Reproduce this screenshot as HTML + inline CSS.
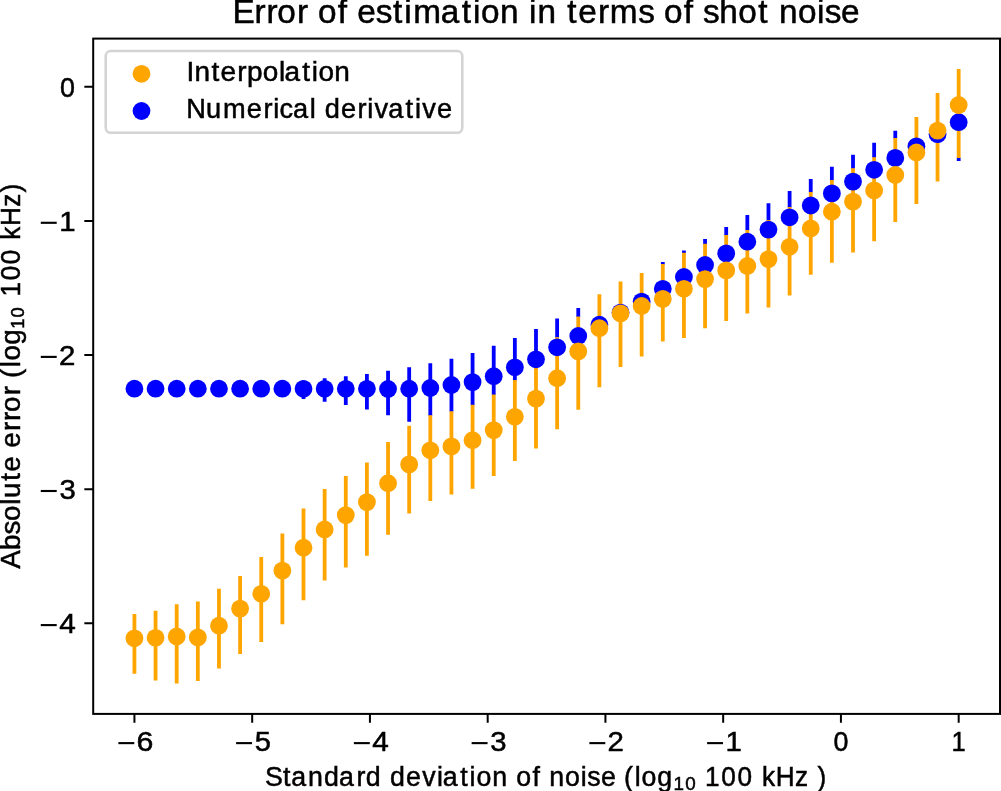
<!DOCTYPE html><html><head><meta charset="utf-8"><style>
html,body{margin:0;padding:0;background:#fff;}
svg{display:block;will-change:transform;}
text{font-family:"Liberation Sans",sans-serif;fill:#000;stroke:#000;stroke-width:0.5px;font-kerning:none;font-variant-ligatures:none;}
.h{fill-opacity:0;stroke-opacity:0;}
</style></head><body>
<svg width="1001" height="791" viewBox="0 0 1001 791">
<rect width="1001" height="791" fill="#fff"/>
<path d="M134.43 381.00V396.00M155.56 381.00V396.00M176.70 381.00V396.00M197.83 381.00V396.00M218.97 381.00V396.00M240.10 381.00V396.00M261.24 381.00V396.00M282.37 380.00V397.00M303.51 380.50V399.00M324.64 378.20V401.80M345.78 376.20V405.10M366.91 373.90V409.60M388.05 370.80V415.20M409.18 367.20V421.70M430.31 363.30V415.70M451.45 358.70V411.80M472.58 353.00V405.30M493.72 345.70V394.90M514.85 338.10V380.60M535.99 328.90V360.50M557.12 318.60V337.70M578.26 308.00V317.00M662.80 262.10V264.50M683.93 250.40V253.20M705.06 239.10V244.20M726.20 227.10V235.50M747.33 215.00V230.50M768.47 203.20V220.40M789.60 191.00V207.50M810.74 179.00V192.40M831.87 166.80V180.60M853.01 154.70V168.80M874.14 142.80V157.80M895.28 130.80V138.50M958.68 157.60V160.90" stroke="#0000ff" stroke-width="3.8" fill="none"/>
<path d="M134.43 614.00V673.80M155.56 610.80V680.60M176.70 604.30V683.50M197.83 601.40V680.90M218.97 588.80V668.60M240.10 576.00V653.90M261.24 557.00V642.00M282.37 533.40V624.20M303.51 508.60V600.30M324.64 489.10V580.60M345.78 476.10V567.60M366.91 462.50V555.70M388.05 441.90V534.80M409.18 425.70V513.60M430.31 415.20V501.10M451.45 411.30V494.60M472.58 404.80V488.70M493.72 394.40V476.10M514.85 380.10V461.00M535.99 360.00V448.50M557.12 337.20V429.20M578.26 316.50V409.80M599.39 294.30V387.30M620.53 281.40V367.00M641.66 273.10V356.40M662.80 264.00V341.40M683.93 252.70V338.00M705.06 243.70V328.20M726.20 235.00V321.00M747.33 230.00V313.50M768.47 219.90V307.50M789.60 207.00V295.50M810.74 191.90V274.70M831.87 180.10V262.70M853.01 168.30V252.60M874.14 157.30V241.30M895.28 138.00V222.10M916.41 117.10V204.10M937.55 93.10V181.60M958.68 69.00V158.10" stroke="#ffa500" stroke-width="3.8" fill="none"/>
<g fill="#0000ff"><circle cx="134.43" cy="388.70" r="8.9"/><circle cx="155.56" cy="388.70" r="8.9"/><circle cx="176.70" cy="388.70" r="8.9"/><circle cx="197.83" cy="388.70" r="8.9"/><circle cx="218.97" cy="388.70" r="8.9"/><circle cx="240.10" cy="388.70" r="8.9"/><circle cx="261.24" cy="388.70" r="8.9"/><circle cx="282.37" cy="388.70" r="8.9"/><circle cx="303.51" cy="388.80" r="8.9"/><circle cx="324.64" cy="388.80" r="8.9"/><circle cx="345.78" cy="388.80" r="8.9"/><circle cx="366.91" cy="388.80" r="8.9"/><circle cx="388.05" cy="389.00" r="8.9"/><circle cx="409.18" cy="388.70" r="8.9"/><circle cx="430.31" cy="388.00" r="8.9"/><circle cx="451.45" cy="385.00" r="8.9"/><circle cx="472.58" cy="382.10" r="8.9"/><circle cx="493.72" cy="376.20" r="8.9"/><circle cx="514.85" cy="367.30" r="8.9"/><circle cx="535.99" cy="359.30" r="8.9"/><circle cx="557.12" cy="347.30" r="8.9"/><circle cx="578.26" cy="336.00" r="8.9"/><circle cx="599.39" cy="324.70" r="8.9"/><circle cx="620.53" cy="312.60" r="8.9"/><circle cx="641.66" cy="301.60" r="8.9"/><circle cx="662.80" cy="288.80" r="8.9"/><circle cx="683.93" cy="277.00" r="8.9"/><circle cx="705.06" cy="265.00" r="8.9"/><circle cx="726.20" cy="253.40" r="8.9"/><circle cx="747.33" cy="241.70" r="8.9"/><circle cx="768.47" cy="229.60" r="8.9"/><circle cx="789.60" cy="217.30" r="8.9"/><circle cx="810.74" cy="205.50" r="8.9"/><circle cx="831.87" cy="193.40" r="8.9"/><circle cx="853.01" cy="181.60" r="8.9"/><circle cx="874.14" cy="169.80" r="8.9"/><circle cx="895.28" cy="157.90" r="8.9"/><circle cx="916.41" cy="146.30" r="8.9"/><circle cx="937.55" cy="134.20" r="8.9"/><circle cx="958.68" cy="122.20" r="8.9"/></g>
<g fill="#ffa500"><circle cx="134.43" cy="638.30" r="8.9"/><circle cx="155.56" cy="637.80" r="8.9"/><circle cx="176.70" cy="636.50" r="8.9"/><circle cx="197.83" cy="637.40" r="8.9"/><circle cx="218.97" cy="625.70" r="8.9"/><circle cx="240.10" cy="608.60" r="8.9"/><circle cx="261.24" cy="593.80" r="8.9"/><circle cx="282.37" cy="570.60" r="8.9"/><circle cx="303.51" cy="547.70" r="8.9"/><circle cx="324.64" cy="529.50" r="8.9"/><circle cx="345.78" cy="515.10" r="8.9"/><circle cx="366.91" cy="502.10" r="8.9"/><circle cx="388.05" cy="483.20" r="8.9"/><circle cx="409.18" cy="464.40" r="8.9"/><circle cx="430.31" cy="450.30" r="8.9"/><circle cx="451.45" cy="446.40" r="8.9"/><circle cx="472.58" cy="440.20" r="8.9"/><circle cx="493.72" cy="430.10" r="8.9"/><circle cx="514.85" cy="416.80" r="8.9"/><circle cx="535.99" cy="398.60" r="8.9"/><circle cx="557.12" cy="378.20" r="8.9"/><circle cx="578.26" cy="351.40" r="8.9"/><circle cx="599.39" cy="328.20" r="8.9"/><circle cx="620.53" cy="313.40" r="8.9"/><circle cx="641.66" cy="306.00" r="8.9"/><circle cx="662.80" cy="298.90" r="8.9"/><circle cx="683.93" cy="288.80" r="8.9"/><circle cx="705.06" cy="279.10" r="8.9"/><circle cx="726.20" cy="270.40" r="8.9"/><circle cx="747.33" cy="266.00" r="8.9"/><circle cx="768.47" cy="259.10" r="8.9"/><circle cx="789.60" cy="246.80" r="8.9"/><circle cx="810.74" cy="228.50" r="8.9"/><circle cx="831.87" cy="211.70" r="8.9"/><circle cx="853.01" cy="201.60" r="8.9"/><circle cx="874.14" cy="190.40" r="8.9"/><circle cx="895.28" cy="175.00" r="8.9"/><circle cx="916.41" cy="152.50" r="8.9"/><circle cx="937.55" cy="130.60" r="8.9"/><circle cx="958.68" cy="105.00" r="8.9"/></g>
<rect x="93.2" y="38.6" width="906.80" height="675.30" fill="none" stroke="#000" stroke-width="2" stroke-linejoin="miter"/>
<path d="M134.43 713.90V722.75M252.18 713.90V722.75M369.93 713.90V722.75M487.68 713.90V722.75M605.43 713.90V722.75M723.18 713.90V722.75M840.93 713.90V722.75M958.68 713.90V722.75M84.35 86.87H93.20M84.35 220.97H93.20M84.35 355.07H93.20M84.35 489.17H93.20M84.35 623.27H93.20" stroke="#000" stroke-width="2"/>
<rect x="118.37" y="742.07" width="15.93" height="2.11" fill="#000"/><text transform="translate(0,751.10) scale(1.1238,1)" x="104.52 121.58" y="0" font-size="27.0"><tspan class="h">−</tspan>6</text>
<rect x="236.12" y="742.07" width="15.93" height="2.11" fill="#000"/><text transform="translate(0,751.10) scale(1.0778,1)" x="218.58 236.27" y="0" font-size="27.0"><tspan class="h">−</tspan>5</text>
<rect x="353.87" y="742.07" width="15.93" height="2.11" fill="#000"/><text transform="translate(0,751.10) scale(1.1021,1)" x="320.42 337.83" y="0" font-size="27.0"><tspan class="h">−</tspan>4</text>
<rect x="471.62" y="742.07" width="15.93" height="2.11" fill="#000"/><text transform="translate(0,751.10) scale(1.0859,1)" x="433.74 451.43" y="0" font-size="27.0"><tspan class="h">−</tspan>3</text>
<rect x="589.37" y="742.07" width="15.93" height="2.11" fill="#000"/><text transform="translate(0,751.10) scale(1.0902,1)" x="540.00 557.28" y="0" font-size="27.0"><tspan class="h">−</tspan>2</text>
<rect x="707.12" y="742.07" width="15.93" height="2.11" fill="#000"/><text transform="translate(0,751.10) scale(1.0897,1)" x="648.36 665.79" y="0" font-size="27.0"><tspan class="h">−</tspan>1</text>
<text transform="translate(0,751.10) scale(0.9936,1)" x="838.81" y="0" font-size="27.0">0</text>
<text transform="translate(0,751.10) scale(0.9490,1)" x="1002.56" y="0" font-size="27.0">1</text>
<text transform="translate(0,96.67) scale(0.9936,1)" x="60.42" y="0" font-size="27.0">0</text>
<rect x="40.78" y="221.74" width="15.93" height="2.11" fill="#000"/><text transform="translate(0,230.77) scale(1.0897,1)" x="36.84 54.28" y="0" font-size="27.0"><tspan class="h">−</tspan>1</text>
<rect x="40.78" y="355.84" width="15.93" height="2.11" fill="#000"/><text transform="translate(0,364.87) scale(1.0902,1)" x="36.82 54.10" y="0" font-size="27.0"><tspan class="h">−</tspan>2</text>
<rect x="40.78" y="489.94" width="15.93" height="2.11" fill="#000"/><text transform="translate(0,498.97) scale(1.0859,1)" x="37.00 54.69" y="0" font-size="27.0"><tspan class="h">−</tspan>3</text>
<rect x="40.78" y="624.04" width="15.93" height="2.11" fill="#000"/><text transform="translate(0,633.07) scale(1.1021,1)" x="36.34 53.74" y="0" font-size="27.0"><tspan class="h">−</tspan>4</text>
<text transform="translate(0,23.10) scale(1.0292,1)" x="225.79 247.31 258.97 269.32 288.61 299.56 309.03 328.17 337.52 347.10 364.99 381.81 392.73 401.44 428.20 448.65 459.57 467.33 485.83 504.16 514.11 522.25 540.58 551.22 561.77 581.06 592.49 620.16 635.77 645.24 664.38 673.73 682.97 698.97 717.40 736.69 747.08 756.93 775.32 793.92 801.44 817.21" y="0" font-size="32.4">Error of estimation in terms of shot noise</text>
<text transform="translate(0,785.60) scale(0.9907,1)" x="267.50 285.74 293.98 311.01 327.08 342.29 359.91 369.22 385.04 393.68 409.94 426.14 441.07 447.01 464.57 474.01 480.91 496.95 512.54 521.06 537.51 545.46 554.30 570.25 586.18 592.86 606.56 621.91 629.90 640.66 647.58 663.42" y="0" font-size="27.0">Standard deviation of noise (log</text>
<text transform="translate(0,789.60) scale(0.9959,1)" x="676.22 687.97" y="0" font-size="18.9">10</text>
<text transform="translate(0,785.60) scale(0.9696,1)" x="727.05 743.86 760.54 776.40 785.80 800.01 819.88 833.39 843.02" y="0" font-size="27.0">100 kHz )</text>
<text transform="translate(19.50,568.00) rotate(-90) scale(1.0294,1)" x="-0.69 17.39 32.57 45.75 61.33 68.12 84.64 93.55 108.67 116.79 132.99 142.79 151.52 167.72 176.88 184.48 194.98 201.55 216.93" y="0" font-size="27.0">Absolute error (log</text>
<text transform="translate(23.60,327.30) rotate(-90) scale(0.9710,1)" x="-1.54 10.21" y="0" font-size="18.9">10</text>
<text transform="translate(19.50,294.40) rotate(-90) scale(0.9659,1)" x="-2.19 14.62 31.30 47.16 56.56 70.77 90.64 105.45" y="0" font-size="27.0">100 kHz)</text>
<rect x="105.7" y="51.1" width="356.6" height="81.7" rx="5" ry="5" fill="#fff" fill-opacity="0.8" stroke="#d4d4d4" stroke-width="2.54"/>
<circle cx="141.5" cy="73.8" r="8.9" fill="#ffa500"/>
<circle cx="141.5" cy="111.0" r="8.9" fill="#0000ff"/>
<text transform="translate(0,80.80) scale(1.0363,1)" x="179.95 187.70 203.99 212.77 228.84 238.42 253.66 269.13 274.65 291.69 300.78 307.24 322.65" y="0" font-size="27.0">Interpolation</text>
<text transform="translate(0,117.90) scale(1.0071,1)" x="184.97 204.62 221.32 245.12 261.53 271.27 277.65 290.93 307.65 314.16 322.55 338.54 354.95 364.69 371.91 385.41 402.75 412.05 419.27 433.82" y="0" font-size="27.0">Numerical derivative</text>
</svg></body></html>
